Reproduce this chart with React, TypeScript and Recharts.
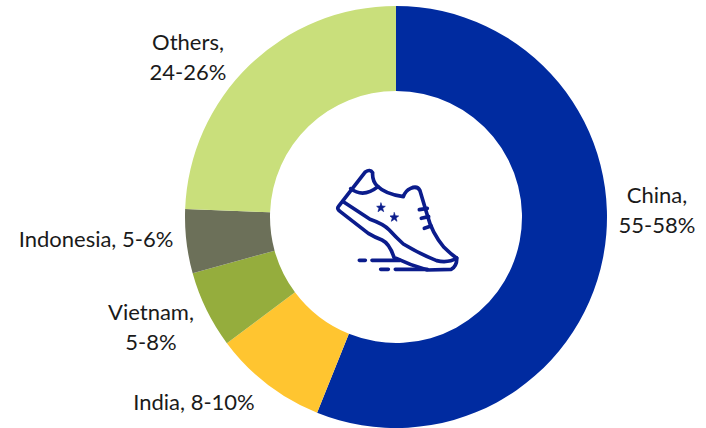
import React from 'react'
import { PieChart, Pie, Cell } from 'recharts'

const COUNTRIES = ['China', 'India', 'Vietnam', 'Indonesia', 'Others']
const SHARES = [56.1, 8.7, 5.9, 4.9, 24.4]
const COLORS = ['#002BA0', '#FFC530', '#95AD3D', '#6C7059', '#C9DF7B']

// each label is drawn as one or two centred lines
const LABEL_LINES = [
  ['China,', '55-58%'],
  ['India, 8-10%'],
  ['Vietnam,', '5-8%'],
  ['Indonesia, 5-6%'],
  ['Others,', '24-26%'],
]
const LABEL_X = [657, 194, 151, 96, 188]
const LABEL_Y = [203, 410, 320, 247, 50]
const LINE_HEIGHT = 29.5

const chartData = COUNTRIES.map((name, i) => ({ name, value: SHARES[i] }))

const renderLabel = ({ index }: { index: number }) => (
  <text
    key={index}
    x={LABEL_X[index]}
    y={LABEL_Y[index]}
    textAnchor="middle"
    fontFamily="Lato, sans-serif"
    fontSize={22}
    fill="#1a1a1a"
  >
    {LABEL_LINES[index].map((line, i) => (
      <tspan key={line} x={LABEL_X[index]} dy={i === 0 ? 0 : LINE_HEIGHT}>
        {line}
      </tspan>
    ))}
  </text>
)

// running shoe in the middle of the ring
const ShoeIcon = () => (
  <g
    transform="translate(320 150) scale(0.3333)"
    fill="none"
    stroke="#0B1C8C"
    strokeWidth={11}
    strokeLinecap="round"
    strokeLinejoin="round"
  >
    <path d="M55 170 L136 66 Q150 56 158 68 Q156 92 172 108 Q195 132 250 140 Q256 122 272 115 Q292 106 300 122 L322 196 Q336 250 372 292 Q392 312 410 324 Q412 346 394 358 L322 360 Q270 345 222 322 Q208 280 186 270 Q165 262 145 250 L60 184 Q50 176 55 170 Z" />
    <path d="M70 155 L150 208 Q190 222 208 240 Q228 262 250 282 Q300 312 350 332 Q385 340 410 324" />
    <path d="M92 116 Q130 145 174 110" />
    <path d="M298 179 L322 175 M304 205 L326 200 M313 235 L333 228" />
    <path d="M118 331 L136 331 M156 331 L240 331 M182 358 L205 358 M226 358 L322 358" />
    <path
      d="M183 159 L186 168 L196 169 L188 175 L191 185 L183 179 L174 185 L177 175 L170 169 L180 168 Z"
      fill="#0B1C8C"
      strokeWidth={2}
    />
    <path
      d="M223 188 L226 197 L236 198 L228 204 L231 214 L223 208 L214 214 L217 204 L210 198 L220 197 Z"
      fill="#0B1C8C"
      strokeWidth={2}
    />
  </g>
)

export default function App() {
  return (
    <div style={{ position: 'absolute', left: 0, top: 0, width: 706, height: 428, background: '#fff' }}>
      <PieChart width={706} height={428} margin={{ top: 0, right: 0, bottom: 0, left: 0 }}>
        <Pie
          data={chartData}
          dataKey="value"
          nameKey="name"
          cx={396}
          cy={217}
          innerRadius={126}
          outerRadius={211}
          startAngle={90}
          endAngle={-270}
          stroke="none"
          labelLine={false}
          label={renderLabel}
          isAnimationActive={false}
        >
          {chartData.map((entry, index) => (
            <Cell key={entry.name} fill={COLORS[index]} />
          ))}
        </Pie>
        <ShoeIcon />
      </PieChart>
    </div>
  )
}
